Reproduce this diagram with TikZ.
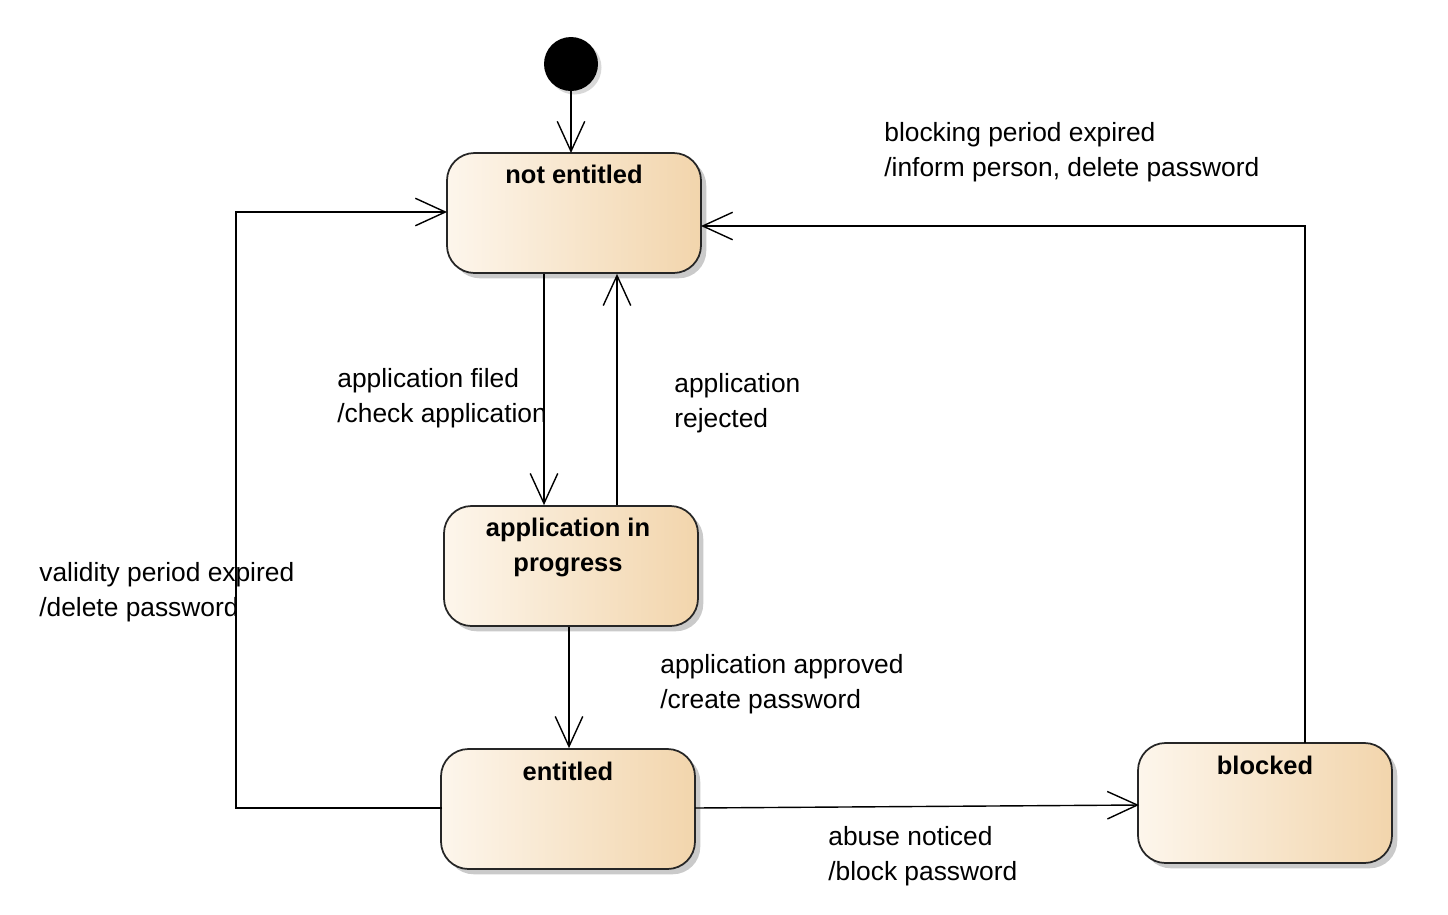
\documentclass[tikz,border=0pt]{standalone}
\usepackage{fontspec}
\setmainfont{Liberation Sans}
\usetikzlibrary{arrows.meta,shadows}
\definecolor{boxL}{HTML}{FDF6EC}
\definecolor{boxR}{HTML}{F2D5AC}
\begin{document}
\begin{tikzpicture}[x=0.02cm,y=-0.02cm,
  statebox/.style={draw=black!85,line width=1pt,rounded corners=0.55cm,left color=boxL,right color=boxR,
    drop shadow={shadow xshift=3pt,shadow yshift=-3pt,fill=black!35,opacity=0.6},minimum width=254*0.02cm,minimum height=120*0.02cm,inner sep=0},
  title/.style={font=\fontsize{14.5}{20}\selectfont\bfseries,align=center,anchor=north,inner sep=0},
  lbl/.style={font=\fontsize{15}{19.9}\selectfont,align=left,anchor=north west,inner sep=0},
  tr/.style={draw,line width=0.8pt,-{Straight Barb[length=0.6cm,width=0.55cm,line width=0.8pt]}}]
\useasboundingbox (0,0) rectangle (1448,914);
\node[circle,fill=black,minimum size=54*0.02cm,inner sep=0,drop shadow={shadow xshift=2pt,shadow yshift=-2pt,fill=black!30}] (init) at (571,64) {};
\node[statebox] (ne) at (574,213) {};
\node[title] (net) at (574,165) {not entitled};
\node[statebox] (ap) at (571,566) {};
\node[title] (apt) at (568,518) {application in\\progress};
\node[statebox] (en) at (568,809) {};
\node[title] (ent) at (568,762) {entitled};
\node[statebox] (bl) at (1265,803) {};
\node[title] (blt) at (1265,756) {blocked};
\coordinate (c1) at (571,153);
\draw[tr] (init) -- (c1);
\draw[tr] (ne.south -| 544,0) -- (ap.north -| 544,0);
\draw[tr] (ap.north -| 617,0) -- (ne.south -| 617,0);
\draw[tr] (ap.south -| 569,0) -- (en.north -| 569,0);
\coordinate (e1) at (695,808);
\coordinate (b1) at (1139,805);
\draw[tr] (e1) -- (b1);
\coordinate (b2) at (1305,743);
\coordinate (n2) at (701,226);
\draw[tr] (b2) -- (1305,226) -- (n2);
\coordinate (e2) at (442,808);
\coordinate (n1) at (447,212);
\draw[tr] (e2) -- (236,808) -- (236,212) -- (n1);
\node[lbl] (l1) at (884,122) {blocking period expired\\/inform person, delete password};
\node[lbl] (l2) at (337,368) {application filed\\/check application};
\node[lbl] (l3) at (674,373) {application\\rejected};
\node[lbl] (l4) at (39,562) {validity period expired\\/delete password};
\node[lbl] (l5) at (660,654) {application approved\\/create password};
\node[lbl] (l6) at (828,826) {abuse noticed\\/block password};
\end{tikzpicture}
\end{document}
